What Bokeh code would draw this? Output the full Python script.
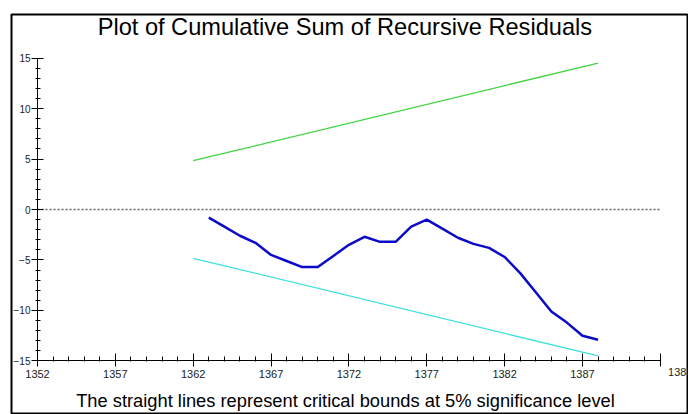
from bokeh.plotting import figure
from bokeh.models import LinearAxis, FixedTicker, Range1d, Label
from bokeh.embed import file_html
from bokeh.resources import INLINE

# ---- data ----
obs = list(range(1363, 1389))
cusum = [-0.8, -1.7, -2.6, -3.3, -4.5, -5.1, -5.7, -5.7, -4.6, -3.5,
         -2.7, -3.2, -3.2, -1.7, -1.0, -1.9, -2.8, -3.4, -3.8, -4.7,
         -6.3, -8.2, -10.1, -11.2, -12.5, -12.9]
bound_x = [1362, 1388]
upper_bound = [4.83, 14.50]
lower_bound = [-4.83, -14.50]
zero_x = [1352, 1392]
zero_y = [0, 0]
x_ticks = list(range(1352, 1393, 5))
x_minor = list(range(1352, 1393))
y_ticks = list(range(-15, 16, 5))
y_minor = list(range(-15, 16))
end_label = "1388"
title_text = "Plot of Cumulative Sum of Recursive Residuals"
footer_text = "The straight lines represent critical bounds at 5% significance level"

FONT = "Liberation Sans"

p = figure(width=688, height=414, output_backend="svg", toolbar_location=None,
           title=None, x_range=Range1d(1350.33, 1393.81), y_range=Range1d(-20.30, 19.31),
           x_axis_type=None, y_axis_type=None,
           min_border_left=11, min_border_top=14, min_border_right=0, min_border_bottom=0)
p.outline_line_color = "black"
p.outline_line_width = 2
p.background_fill_color = "white"
p.border_fill_color = "white"

xaxis = LinearAxis(fixed_location=-15, bounds=(1352, 1392),
                   ticker=FixedTicker(ticks=x_ticks, minor_ticks=x_minor))
xaxis.major_label_overrides = {1392: ""}
xaxis.major_tick_in = 7
xaxis.major_tick_out = 6
xaxis.minor_tick_in = 4
xaxis.minor_tick_out = 1
xaxis.major_label_standoff = 3
xaxis.major_label_text_font = FONT
xaxis.major_label_text_font_size = "11px"
xaxis.major_label_text_color = "#222222"
xaxis.axis_line_color = "black"
xaxis.major_tick_line_color = "black"
xaxis.minor_tick_line_color = "black"
p.add_layout(xaxis, "below")

yaxis = LinearAxis(fixed_location=1352, bounds=(-15, 15),
                   ticker=FixedTicker(ticks=y_ticks, minor_ticks=y_minor))
yaxis.major_tick_in = 6
yaxis.major_tick_out = 6
yaxis.minor_tick_in = 3
yaxis.minor_tick_out = 2
yaxis.major_label_standoff = 1
yaxis.major_label_text_font = FONT
yaxis.major_label_text_font_size = "10px"
yaxis.major_label_text_color = "#222222"
yaxis.axis_line_color = "black"
yaxis.major_tick_line_color = "black"
yaxis.minor_tick_line_color = "black"
p.add_layout(yaxis, "left")

p.line(zero_x, zero_y, line_color="#666666", line_width=1.5, line_dash="2 2")
p.line(bound_x, upper_bound, line_color="#3fd43f", line_width=1.3)
p.line(bound_x, lower_bound, line_color="#3fe0e0", line_width=1.3)
p.line(obs, cusum, line_color="#0a0ac8", line_width=2.5)

p.add_layout(Label(x=1371.74, y=18.12, text=title_text, text_align="center",
                   text_baseline="middle", text_font=FONT, text_font_size="23.6px",
                   text_color="black"))
p.add_layout(Label(x=1371.78, y=-18.91, text=footer_text, text_align="center",
                   text_baseline="middle", text_font=FONT, text_font_size="18.3px",
                   text_color="black"))
p.add_layout(Label(x=1392.5, y=-16.1, text=end_label, text_align="left",
                   text_baseline="middle", text_font=FONT, text_font_size="11px",
                   text_color="#222222"))

open("out.html", "w").write(file_html(p, INLINE))
